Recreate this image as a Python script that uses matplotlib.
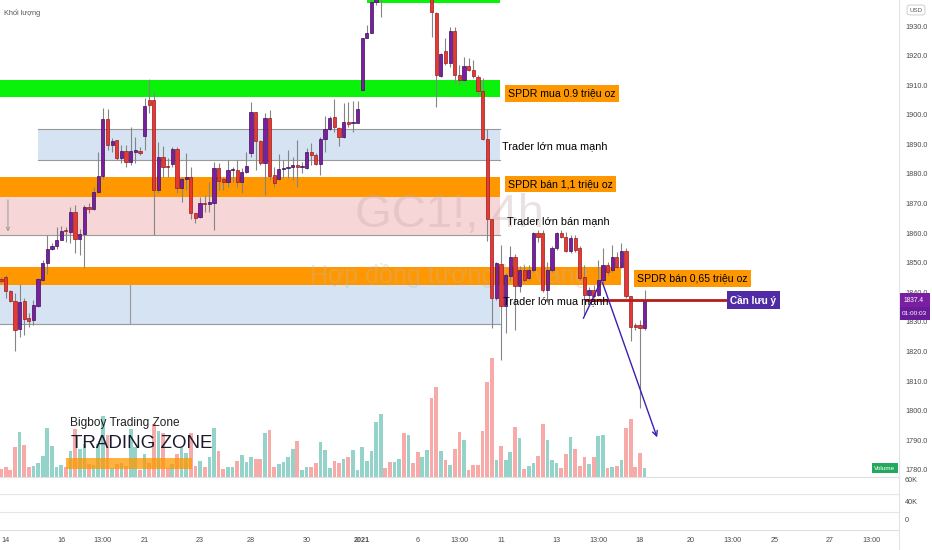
import numpy as np
import matplotlib
matplotlib.use("Agg")
import matplotlib.pyplot as plt
import matplotlib.transforms as mtransforms
from matplotlib.patches import Rectangle
from matplotlib.lines import Line2D

plt.rcParams['font.family'] = ['Liberation Sans', 'DejaVu Sans']

# ---- 4h candles of GC1! ----
opens = [1844.6, 1845.3, 1840.3, 1837.1, 1827.5, 1837.1, 1831.3, 1830.7, 1835.4, 1844.2,
         1849.8, 1854.8, 1855.5, 1857.7, 1861.0, 1860.5, 1867.0, 1858.1, 1859.6, 1868.9,
         1868.1, 1873.8, 1879.3, 1898.5, 1889.8, 1891.5, 1885.3, 1887.8, 1883.9, 1887.6,
         1887.8, 1892.9, 1905.0, 1905.0, 1874.6, 1885.6, 1882.6, 1883.3, 1888.3, 1875.2,
         1878.2, 1879.1, 1866.7, 1865.6, 1870.2, 1870.0, 1870.3, 1881.9, 1878.2, 1877.4,
         1881.5, 1881.4, 1877.4, 1880.8, 1887.2, 1900.8, 1891.2, 1883.8, 1898.8, 1879.6,
         1878.2, 1881.8, 1882.0, 1882.3, 1883.1, 1882.3, 1881.9, 1887.3, 1886.4, 1883.4,
         1891.8, 1895.2, 1899.4, 1895.4, 1892.4, 1897.5, 1897.2, 1897.3, 1908.4, 1926.1,
         1927.5, 1938.2, 1939.0, 1944.0, 1941.0, 1940.0, 1948.0, 1953.0, 1945.0, 1952.0,
         1949.0, 1943.0, 1946.0, 1949.0, 1934.5, 1913.1, 1921.7, 1917.4, 1928.4, 1913.4,
         1911.8, 1916.6, 1915.1, 1912.9, 1908.1, 1891.7, 1864.7, 1838.0, 1849.5, 1835.4,
         1845.5, 1852.1, 1842.2, 1847.6, 1844.8, 1847.6, 1859.9, 1859.9, 1840.8, 1847.6,
         1854.9, 1859.9, 1858.8, 1854.0, 1858.3, 1854.9, 1845.3, 1839.1, 1840.8, 1839.1,
         1844.2, 1849.3, 1847.6, 1852.1, 1848.7, 1854.0, 1838.6, 1829.0, 1829.0, 1827.9]
highs = [1845.3, 1845.7, 1840.8, 1839.7, 1842.8, 1838.0, 1832.9, 1837.4, 1844.8, 1851.0,
         1859.4, 1856.6, 1862.2, 1862.5, 1862.2, 1869.0, 1869.5, 1861.3, 1869.5, 1870.1,
         1875.7, 1887.5, 1902.2, 1901.9, 1892.1, 1891.5, 1889.8, 1889.8, 1896.0, 1892.6,
         1889.2, 1905.6, 1912.1, 1907.8, 1890.9, 1889.5, 1885.3, 1889.2, 1889.2, 1879.1,
         1887.0, 1882.3, 1866.9, 1872.3, 1872.9, 1877.4, 1884.2, 1883.8, 1879.1, 1884.7,
         1882.3, 1884.7, 1881.9, 1887.5, 1904.4, 1900.8, 1891.5, 1900.5, 1901.6, 1882.5,
         1886.8, 1884.7, 1888.1, 1885.9, 1891.5, 1884.0, 1888.7, 1890.4, 1887.0, 1892.6,
         1899.6, 1899.6, 1905.2, 1896.0, 1903.9, 1904.4, 1904.8, 1904.8, 1925.8, 1930.3,
         1939.5, 1944.0, 1946.0, 1947.0, 1943.0, 1950.0, 1956.0, 1959.0, 1954.0, 1954.0,
         1950.0, 1948.0, 1951.0, 1950.0, 1934.8, 1920.8, 1925.8, 1929.8, 1929.8, 1916.8,
         1919.4, 1919.1, 1918.5, 1913.4, 1912.3, 1895.1, 1864.7, 1850.4, 1856.0, 1846.4,
         1855.5, 1853.0, 1849.0, 1849.3, 1849.3, 1860.5, 1861.1, 1861.1, 1850.4, 1855.5,
         1860.5, 1861.1, 1860.5, 1859.4, 1859.4, 1855.5, 1849.3, 1841.9, 1842.5, 1851.0,
         1854.9, 1850.4, 1856.0, 1853.8, 1856.6, 1854.9, 1838.6, 1829.6, 1830.7, 1840.8]
lows = [1843.1, 1838.0, 1836.9, 1820.3, 1825.0, 1825.6, 1828.4, 1829.0, 1835.2, 1844.0,
        1846.2, 1854.3, 1854.7, 1857.7, 1857.1, 1856.6, 1853.2, 1852.6, 1848.1, 1866.7,
        1867.8, 1873.5, 1878.2, 1888.1, 1887.5, 1884.7, 1883.6, 1882.3, 1883.0, 1883.6,
        1886.4, 1888.1, 1900.5, 1859.4, 1873.5, 1879.1, 1879.1, 1882.5, 1873.5, 1870.7,
        1874.6, 1864.7, 1863.6, 1865.0, 1867.3, 1867.3, 1861.1, 1874.6, 1874.6, 1875.7,
        1877.4, 1875.7, 1873.5, 1880.2, 1885.9, 1881.4, 1883.0, 1872.9, 1878.0, 1875.7,
        1878.0, 1878.5, 1878.5, 1878.0, 1875.7, 1880.5, 1881.6, 1883.0, 1883.0, 1879.7,
        1887.5, 1894.9, 1894.3, 1889.5, 1892.1, 1896.0, 1894.3, 1897.1, 1908.3, 1925.8,
        1927.5, 1937.0, 1933.1, 1940.0, 1939.2, 1939.5, 1947.0, 1944.0, 1943.0, 1947.0,
        1941.0, 1941.0, 1944.0, 1926.4, 1902.8, 1912.9, 1916.8, 1916.3, 1910.6, 1910.1,
        1911.2, 1914.9, 1912.3, 1906.7, 1891.5, 1857.5, 1827.8, 1837.4, 1817.2, 1826.2,
        1844.0, 1827.3, 1840.0, 1843.6, 1844.2, 1847.0, 1857.0, 1840.2, 1836.9, 1847.0,
        1854.3, 1858.3, 1853.8, 1853.2, 1853.8, 1844.2, 1832.4, 1836.9, 1838.0, 1838.6,
        1843.6, 1845.9, 1847.0, 1848.1, 1848.1, 1838.0, 1823.4, 1827.3, 1801.0, 1827.3]
closes = [1843.7, 1840.3, 1837.1, 1827.3, 1836.9, 1831.1, 1830.2, 1835.7, 1844.4, 1849.8,
          1854.8, 1855.5, 1857.6, 1860.9, 1860.6, 1867.0, 1857.9, 1859.6, 1869.0, 1868.1,
          1873.8, 1879.3, 1898.5, 1889.8, 1891.2, 1885.3, 1887.8, 1883.9, 1887.8, 1887.9,
          1887.0, 1903.0, 1903.2, 1874.6, 1885.6, 1882.3, 1882.3, 1888.3, 1875.2, 1878.3,
          1878.9, 1866.7, 1865.0, 1870.3, 1870.0, 1870.4, 1881.9, 1877.8, 1877.4, 1881.4,
          1881.7, 1877.2, 1880.8, 1882.8, 1900.8, 1891.2, 1883.8, 1898.8, 1879.4, 1877.1,
          1881.6, 1882.1, 1882.3, 1883.1, 1882.3, 1882.6, 1887.5, 1886.4, 1883.4, 1891.8,
          1895.2, 1898.8, 1895.8, 1892.4, 1897.5, 1896.9, 1897.4, 1901.8, 1925.8, 1927.5,
          1938.2, 1941.0, 1944.0, 1941.0, 1939.5, 1948.0, 1953.0, 1945.0, 1952.0, 1949.0,
          1943.0, 1946.0, 1949.0, 1934.8, 1913.4, 1920.5, 1917.4, 1928.4, 1913.4, 1911.8,
          1916.5, 1915.1, 1913.1, 1908.1, 1891.7, 1864.7, 1838.0, 1849.8, 1835.4, 1845.9,
          1852.1, 1842.2, 1847.6, 1844.2, 1847.6, 1859.9, 1858.8, 1840.8, 1847.6, 1854.9,
          1859.9, 1858.8, 1854.0, 1858.3, 1854.3, 1844.8, 1839.1, 1840.8, 1838.6, 1844.2,
          1849.3, 1847.0, 1852.1, 1848.7, 1854.0, 1838.6, 1828.4, 1828.4, 1827.9, 1837.4]
# volume, thousands of contracts
volumes = [7.3, 9.7, 7.0, 29.7, 44.7, 31.7, 10.0, 11.0, 13.3, 20.7,
           48.3, 30.7, 9.7, 11.7, 9.7, 26.0, 47.3, 28.0, 32.3, 12.7,
           11.7, 32.7, 60.7, 41.7, 8.3, 12.7, 13.3, 10.7, 47.3, 30.0,
           6.7, 22.7, 14.0, 52.3, 46.0, 43.3, 9.0, 12.7, 22.7, 30.0,
           24.0, 44.0, 10.7, 16.0, 10.0, 19.3, 48.3, 26.0, 8.0, 10.0,
           9.3, 15.7, 21.7, 14.7, 20.0, 17.3, 17.3, 44.0, 46.7, 9.3,
           12.7, 14.7, 20.0, 27.3, 36.0, 6.7, 9.3, 9.7, 14.0, 34.3,
           26.3, 8.3, 15.7, 14.0, 17.3, 19.3, 26.7, 6.7, 29.7, 15.7,
           26.0, 54.3, 62.3, 9.0, 15.0, 14.3, 17.7, 43.3, 41.7, 14.0,
           24.3, 19.3, 26.7, 79.0, 89.3, 26.0, 16.7, 11.7, 27.7, 44.3,
           36.7, 6.7, 11.7, 11.7, 45.7, 95.0, 119.0, 16.7, 31.0, 16.7,
           24.7, 49.7, 38.7, 7.7, 11.0, 14.0, 20.3, 52.3, 36.7, 16.7,
           13.3, 9.0, 22.3, 40.0, 27.7, 11.0, 19.3, 12.7, 19.3, 40.7,
           42.0, 9.0, 9.7, 10.3, 16.7, 48.3, 57.7, 9.7, 23.7, 9.0]

price_ticks = list(range(1780, 1931, 10))
time_tick_idx = [1, 13, 22, 31, 43, 54, 66, 78, 90, 99, 108, 120, 129, 138, 149, 158, 167, 179, 188]
time_tick_labels = ['14', '16', '13:00', '21', '23', '28', '30', '2021', '6', '13:00',
                    '11', '13', '13:00', '18', '20', '13:00', '25', '27', '13:00']
last_price = 1837.4
countdown = "01:00:03"

# drawn zones: (x_start, x_end, price_low, price_high, colour)
zones = [
    (-1, 107.8, 1906.0, 1911.8, '#0af20a'),
    (79.0, 107.8, 1937.8, 1941.0, '#0af20a'),
    (8.0, 107.8, 1884.7, 1895.2, '#d5e3f3'),
    (-1, 107.8, 1872.2, 1879.0, '#ff9800'),
    (-1, 107.8, 1859.4, 1872.2, '#f6d6d6'),
    (-1, 133.9, 1842.5, 1848.6, '#ff9800'),
    (-1, 107.8, 1829.3, 1842.5, '#d5e3f3'),
]
zone_edges = [(8.0, 107.8, 1895.2), (8.0, 107.8, 1884.7), (-1, 107.8, 1859.4), (-1, 107.8, 1829.3)]

spdr_labels = [("SPDR mua 0.9 triệu oz", 109.5, 1907.2),
               ("SPDR bán 1,1 triệu oz", 109.5, 1876.6),
               ("SPDR bán 0,65 triệu oz", 137.4, 1844.7)]
trader_labels = [("Trader lớn mua mạnh", 108.2, 1889.5),
                 ("Trader lớn bán mạnh", 109.3, 1864.1),
                 ("Trader lớn mua mạnh", 108.4, 1837.1)]
arrow_path = [(125.8, 1831.3), (129.7, 1844.2), (141.9, 1790.1)]
alert_line = (126.1, 156.8)

W, H = 932, 550
def fx(px):
    return px / W
def fy(py):
    return 1 - py / H

fig = plt.figure(figsize=(9.32, 5.5), dpi=100)
fig.patch.set_facecolor('white')

pos_main = [0, fy(476.7), fx(899), 476.7 / H]
axv = fig.add_axes(pos_main)
ax = fig.add_axes(pos_main, sharex=axv)
ax.patch.set_alpha(0)
axlow = fig.add_axes([0, fy(530), fx(899), 53.3 / H], sharex=axv)

idx = np.arange(len(opens))
o = np.array(opens); c = np.array(closes); h = np.array(highs); l = np.array(lows)
up = c >= o

# volume
vcol = np.where(up, '#93d3ca', '#f7aaa8')
axv.bar(idx, volumes, width=0.8, color=vcol, linewidth=0)
axv.set_ylim(0, max(volumes) * 4.0)
axv.axis('off')

# zones
for x0, x1, y0, y1, col in zones:
    ax.add_patch(Rectangle((x0, y0), x1 - x0, y1 - y0, facecolor=col, edgecolor='none', zorder=1))
for x0, x1, yy in zone_edges:
    ax.plot([x0, x1], [yy, yy], color='#9a9a9a', lw=0.8, zorder=1.5)
ax.plot([27.9, 27.9], [1829.3, 1842.5], color='#9a9a9a', lw=0.8, zorder=1.5)
ax.annotate('', xy=(1.5, 1859.6), xytext=(1.5, 1872.2),
            arrowprops=dict(arrowstyle='->', color='#9a9a9a', lw=0.7, mutation_scale=6), zorder=1.5)

# watermark
wtr = mtransforms.blended_transform_factory(ax.transAxes, ax.transData)
ax.text(0.5, 1866.1, "GC1!, 4h", transform=wtr, ha='center', va='center',
        fontsize=34, color='#c9a9ad', alpha=0.35, zorder=1.6)
ax.text(0.5, 1845.6, "Hợp đồng tương lai vàng", transform=wtr, ha='center', va='center',
        fontsize=18, color='#b8b8c0', alpha=0.3, zorder=1.6)

# candles
ax.vlines(idx, l, h, color='#858585', lw=0.8, zorder=3)
body_lo = np.minimum(o, c)
body_h = np.maximum(np.abs(c - o), 0.35)
ax.bar(idx, body_h, bottom=body_lo, width=0.7,
       color=np.where(up, '#7b1fa2', '#e53935'),
       edgecolor=np.where(up, '#3d1058', '#9b1c1c'), linewidth=0.5, zorder=4)

# annotations
for s, x, y in spdr_labels:
    ax.text(x, y, s, ha='left', va='center', fontsize=7.6, color='black', zorder=6,
            bbox=dict(boxstyle='square,pad=0.32', fc='#ff9800', ec='none'))
for s, x, y in trader_labels:
    ax.text(x, y, s, ha='left', va='center', fontsize=7.8, color='black', zorder=6)

ax.plot(list(alert_line), [last_price, last_price], color='#b71c1c', lw=2, zorder=5, solid_capstyle='butt')
ax.text(alert_line[1] + 0.65, last_price, "Cần lưu ý", ha='left', va='center', fontsize=7.2,
        color='white', fontweight='bold', zorder=6,
        bbox=dict(boxstyle='square,pad=0.35', fc='#4f2ca6', ec='none'))

(ax0, ay0), (ax1, ay1), (ax2, ay2) = arrow_path
ax.plot([ax0, ax1], [ay0, ay1], color='#3f1db3', lw=1.0, zorder=5)
ax.annotate('', xy=(ax2, ay2), xytext=(ax1, ay1),
            arrowprops=dict(arrowstyle='->', color='#3f1db3', lw=1.0, mutation_scale=9), zorder=5)

# axes formatting
ax.set_xlim(-0.22, 193.95)
ax.set_ylim(1777.7, 1938.8)
for sp in ax.spines.values():
    sp.set_visible(False)
ax.yaxis.tick_right()
ax.set_yticks(price_ticks)
ax.set_yticklabels(['%.1f' % p for p in price_ticks])
ax.tick_params(axis='y', length=0, pad=4.3, labelsize=5.2, labelcolor='#4a4a4a')
ax.tick_params(axis='x', bottom=False, labelbottom=False)

# last price / countdown tags on the price scale
tag_h = 13.5 / H
y_fig = ax.transData.transform((0, last_price))[1] / fig.bbox.height
fig.add_artist(Rectangle((fx(899.5), y_fig - tag_h / 2), fx(30), tag_h, facecolor='#7b1fa2',
                         edgecolor='none', zorder=8))
fig.add_artist(Rectangle((fx(899.5), y_fig - tag_h * 1.5), fx(30), tag_h, facecolor='#6a1b9a',
                         edgecolor='none', zorder=8))
fig.text(fx(914), y_fig, "1837.4", fontsize=4.8, color='white', ha='center', va='center', zorder=9)
fig.text(fx(914), y_fig - tag_h, countdown, fontsize=4.6, color='white', ha='center', va='center', zorder=9)

# lower pane
axlow.set_ylim(0, 53.3)
axlow.set_yticks([10, 29, 50])
axlow.set_yticklabels(['0', '40K', '60K'])
axlow.yaxis.tick_right()
axlow.tick_params(axis='y', length=0, pad=4.3, labelsize=5.2, labelcolor='#4a4a4a')
axlow.axhline(18, color='#e6e6e6', lw=0.8)
axlow.axhline(36, color='#e6e6e6', lw=0.8)
for k, sp in axlow.spines.items():
    sp.set_visible(k in ('top', 'bottom'))
    sp.set_color('#e0e0e0')
axlow.set_xticks(time_tick_idx)
axlow.set_xticklabels(time_tick_labels)
axlow.tick_params(axis='x', length=0, pad=5, labelsize=5.2, labelcolor='#4a4a4a')
for t in axlow.get_xticklabels():
    if t.get_text() == '2021':
        t.set_fontweight('bold')

# price scale border
fig.add_artist(Line2D([fx(899), fx(899)], [0, 1], color='#e0e3eb', lw=0.8))

# misc texts
fig.text(fx(4), fy(13), "Khối lượng", fontsize=5.3, color='#555555', va='center', ha='left')
fig.text(fx(916), fy(10), "USD", fontsize=4.4, color='#555555', va='center', ha='center',
         bbox=dict(boxstyle='round,pad=0.4', fc='white', ec='#c8c8c8', lw=0.6))
fig.text(fx(885), fy(468), "Volume", fontsize=4.6, color='white', va='center', ha='center',
         bbox=dict(boxstyle='square,pad=0.35', fc='#22a95c', ec='none'), zorder=8)

# logo
fig.add_artist(Rectangle((fx(66), fy(469)), fx(126), 11 / H, facecolor='#ff9800', alpha=0.75,
                         edgecolor='none', zorder=9))
fig.text(fx(70), fy(423), "Bigboy Trading Zone", fontsize=8.6, color='#222222', va='center', ha='left', zorder=10)
fig.text(fx(71), fy(444), "TRADING ZONE", fontsize=13.5, color='#1b1b2f', va='center', ha='left', zorder=10)

fig.savefig('out.png', dpi=100, facecolor='white')
